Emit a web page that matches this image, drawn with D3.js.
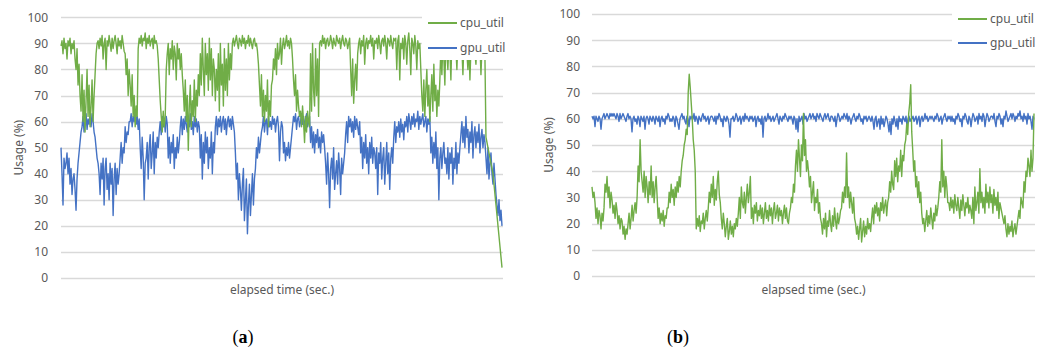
<!DOCTYPE html>
<html>
<head>
<meta charset="utf-8">
<script src="https://cdn.jsdelivr.net/npm/d3@7"></script>
<style>
  body { margin: 0; background: #fff; }
  svg { display: block; }
  .axis text { font-family: "Noto Sans", sans-serif; font-size: 12px; fill: #595959; }
</style>
</head>
<body>
<div id="chart"></div>
<script>
const WIDTH = 1037;
const HEIGHT = 358;

const SERIES_NAMES = ['cpu_util', 'gpu_util'];
const Y_TICKS = [0, 10, 20, 30, 40, 50, 60, 70, 80, 90, 100];
const X_TITLE = 'elapsed time (sec.)';
const Y_TITLE = 'Usage (%)';
const PANEL_LABELS = ['a', 'b'];

// (a) roughly one sample per pixel of the original plot
const cpuA = [
  89, 91, 86, 92, 88, 90, 84, 91, 89, 92, 86, 90, 88, 91,
  84, 80, 88, 74, 82, 70,
  64, 78, 60, 72, 56, 68, 80, 62, 74, 58, 66, 76, 60, 70,
  78, 86, 90,
  91, 88, 92, 89, 93, 84, 90, 92, 80, 91, 89, 93, 90, 87, 92, 88, 91, 93, 90, 86, 92, 89, 91, 88, 93, 90, 87,
  86, 78, 84, 70, 80, 74, 66, 78, 62, 70, 58, 66, 62,
  88, 92, 90, 93, 89, 92, 91, 94, 88, 92, 90, 93, 89, 91, 92, 88, 93, 90, 91, 89,
  84, 76, 68, 62, 56, 64, 58, 62,
  80, 86, 90, 78, 88, 84, 91, 80, 89, 86, 76, 90, 84, 88, 80, 86, 78,
  72, 64, 76, 60, 70, 49, 66, 74, 58, 68, 62, 76, 60, 72, 66, 78, 70,
  86, 74, 92, 80, 70, 90, 78, 86, 72, 92, 76, 88, 70, 84, 80,
  68, 80, 72, 86, 64, 90, 74, 82, 66, 88, 72, 84, 70, 90, 76, 86, 80,
  90, 92, 89, 91, 93, 90, 88, 92, 91, 89, 93, 90, 92, 88, 91, 90, 93, 89, 92, 90, 88, 91, 92, 89, 90, 87,
  82, 74, 66, 78, 62, 72, 60, 70, 64, 76, 58, 68, 62, 74,
  76, 84, 80, 88, 78, 90, 84, 86, 92, 82, 89, 92, 88, 90, 93, 89, 91, 88, 92, 90,
  84, 76, 70, 78, 64, 72, 66, 62,
  64, 58, 66, 60, 52, 62, 56, 64, 60, 58,
  86, 64, 90, 72, 66, 88, 70, 84, 62, 90,
  91, 89, 93, 90, 92, 88, 91, 92, 89, 90, 93, 91, 88, 92, 90, 89, 93, 91, 90, 92, 88, 91, 93, 90, 89, 92, 91, 88, 90, 92,
  80, 70, 84, 67, 76, 82, 72, 86,
  90, 92, 86, 91, 89, 93, 82, 90, 92, 88, 91, 90, 93, 89, 92, 84, 91, 90, 92, 88, 93, 90, 86, 91, 92, 89, 93, 90, 84, 92, 91, 89, 93, 90, 88, 92, 91,
  92, 80, 91, 93, 76, 90, 88, 92, 84, 93, 90, 82, 91, 94, 88, 78, 92, 90, 86, 93, 89, 80, 91, 88, 90,
  80, 70, 64, 76, 62, 72, 80, 66, 74, 60, 70, 78, 64, 82, 68, 74, 62, 72, 66, 76,
  88, 78, 90, 84, 74, 92, 86, 80, 90, 88, 76, 92, 86, 90, 84, 88, 80, 91, 86, 89, 85, 88, 78, 90, 84, 92, 86, 80, 90, 76, 88, 92, 84, 90, 86, 82, 91, 88, 84, 90, 78, 88, 92, 86, 84,
  54,
  52, 50, 48, 46, 44, 42, 40, 36, 32, 28, 24, 20, 16, 12, 8, 4
];

const gpuA = [
  50, 40, 28, 46, 42, 44, 48, 40, 46, 36, 42, 32, 38, 40, 34, 26, 38,
  44, 48, 52, 56,
  58, 62, 56, 60, 63, 57, 61, 59, 62, 58, 63, 60, 56,
  54, 50, 46, 44, 40,
  32, 44, 38, 46, 28, 42, 46, 34, 40, 30, 44, 36, 42, 24, 38, 44, 32, 42, 36, 40,
  46, 52, 44, 50, 48, 58, 52, 56, 55, 60,
  60, 63, 58, 62, 60, 64, 59, 62, 57, 61,
  50, 42, 54, 46, 30, 44, 46, 52, 38, 50, 55, 42, 48, 56, 40, 52, 46, 54, 50, 56,
  60, 55, 62, 58, 61, 56, 62, 59,
  46, 54, 44, 52, 48, 55, 42, 50, 46, 54, 48, 52,
  58, 62, 55, 61, 57, 62, 59, 56, 61, 58, 63, 57, 60, 55, 62, 58, 61, 56, 60, 58,
  46, 55, 38, 52, 44, 56, 48, 54, 42, 50, 46, 56, 40, 52, 48,
  58, 62, 55, 61, 58, 62, 56, 60, 62, 57, 61, 55, 60, 62, 58, 61, 57, 62, 59, 56,
  48, 38, 44, 30, 40, 34, 26, 36, 42, 22, 30, 38, 17, 28, 36, 24, 32, 40, 28, 38,
  42, 50, 46, 54, 48, 52, 56,
  58, 62, 56, 60, 61, 55, 62, 58, 60, 57, 62, 59, 61, 56, 60, 62, 58, 45, 56, 60, 58,
  48, 52, 45, 50, 47, 52, 46, 50, 54,
  58, 62, 60, 63, 57, 61, 62, 58, 60, 63, 59, 62, 57, 61, 63, 58, 60, 62,
  52, 58, 50, 56, 48, 55, 52, 57, 50, 54, 48, 56, 52, 55, 50,
  44, 36, 48, 40, 27, 42, 46, 38, 50, 34, 40, 45, 36, 48, 42, 32, 46, 40, 44, 48,
  55, 60, 52, 62, 58, 61, 56, 60, 54, 62, 57, 61, 58, 55, 60,
  48, 54, 42, 52, 46, 55, 44, 50, 40, 52, 46, 54, 44, 50, 48,
  42, 50, 32, 48, 44, 52, 38, 46, 50, 36, 44, 52, 40, 48, 34, 46, 50, 44,
  54, 60, 52, 58, 56, 60, 54, 61, 56, 59, 53, 60,
  58, 62, 56, 63, 60, 57, 62, 59, 63, 58, 61, 60, 64, 57, 62, 59, 61, 63, 58, 60, 62, 56, 61, 59, 62,
  48, 54, 44, 52, 46, 56, 42, 50, 30, 46, 50, 42, 48, 52, 44,
  46, 40, 50, 38, 48, 44, 50, 36, 46, 42, 52, 40, 48, 44, 50,
  55, 60, 52, 58, 50, 62, 54, 57, 48, 56, 52, 60, 46, 55, 58, 50, 56, 52, 59, 48, 54, 57, 50, 55, 52,
  46, 40, 50, 38, 44, 48, 40, 36, 44, 38,
  32, 28, 24, 30, 22, 26, 20
];

// (b)
const cpuB = [
  34, 30, 32, 28,
  22, 26, 20, 25, 23, 18, 24, 21, 26,
  35, 32, 38,
  30, 34, 26, 32, 29, 24, 27, 22, 28, 25, 20, 23, 18, 22, 21, 16, 19, 14, 18, 16,
  20, 24, 18, 22, 27, 21, 25, 28, 24, 30,
  42, 36, 52, 40, 36,
  32, 40, 30, 38, 34, 28, 36, 31, 42, 30, 36, 28, 34, 38, 30,
  22, 26, 20, 24, 21, 25, 19, 23, 22, 26,
  26, 32, 28, 35, 30, 33, 27, 34, 30, 36, 32, 38, 34,
  40, 44, 46, 50, 52, 56, 54,
  70, 77, 72,
  66, 60, 52, 48, 40,
  18, 22, 19, 23, 17, 21, 20, 24, 18, 22, 25, 21,
  26, 32, 28, 35, 30, 38, 27, 33, 29, 36, 40, 31, 28,
  22, 18, 24, 20, 15, 19, 22, 14, 17, 21, 16, 19, 15, 20, 18, 22, 19,
  24, 30, 22, 34, 28, 26, 32, 24, 30, 35, 28, 32, 38,
  22, 26, 20, 27, 24, 28, 21, 25, 23, 27, 22, 26, 20, 24, 28, 22, 25, 21, 27, 23, 26, 20, 25, 28, 22, 24, 27, 21, 26, 23, 25, 20, 24, 27, 22, 26, 21,
  20, 24, 26, 30, 28, 35, 32,
  42, 48, 40, 52, 45, 38, 50, 44, 62, 46, 52, 40, 44,
  40, 34, 38, 28, 32, 36, 25, 30, 28, 33, 24, 28, 22,
  20, 16, 22, 18, 24, 15, 21, 19, 25, 20, 17, 23, 19, 26, 21, 18, 24, 20, 22, 25,
  26, 32, 28, 34, 30, 47, 30, 34, 26, 32, 28, 24, 30, 22,
  20, 16, 19, 14, 18, 22, 13, 17, 21, 15, 19, 16, 22, 18, 20, 17,
  22, 26, 20, 27, 24, 28, 23, 26, 21, 28, 25, 30, 24, 27, 29, 23, 28,
  30, 36, 32, 40, 35, 33, 44, 38, 45, 36, 42, 40, 48, 38, 46, 44, 50,
  52, 58, 54, 62, 66, 73,
  55, 48, 40, 44, 34, 38, 30, 36, 28, 32,
  24, 20, 22, 17, 21, 25, 19, 23, 20, 26, 22, 18, 24, 21, 27, 23, 26,
  30, 36, 32, 52, 34, 40, 30, 38, 34, 28,
  28, 25, 30, 26, 29, 24, 31, 27, 25, 30, 26, 22, 29, 25, 31, 27, 23, 28, 26, 30, 24, 27, 25,
  22, 30, 20, 34, 25, 28, 32, 24, 41, 28, 32, 26, 30, 24, 35, 28, 32,
  26, 34, 28, 31, 24, 33, 27, 30, 25, 32, 22, 28, 26, 24, 22, 20, 23,
  18, 15, 20, 16, 19, 17, 21, 15, 18, 20, 16, 19, 22,
  25, 22, 30, 28, 26, 36, 32, 40, 38, 45, 42, 38, 48, 40, 45, 62
];

const gpuB = [
  61, 60, 61, 57, 61, 60, 59, 61, 60, 56, 60, 61, 62, 60, 61, 62, 61, 60, 62, 61,
  62, 61, 62, 61, 60, 62, 61, 59, 62, 60, 61, 62, 61, 60, 59, 61, 62, 60, 61, 60,
  55, 60, 61, 59, 60, 58, 61, 60, 57, 61, 60, 59, 61, 56, 60, 61, 60, 58, 61, 60,
  59, 61, 60, 58, 61, 60, 59, 61, 57, 60, 61, 59, 60, 58, 61, 60, 62, 61, 59, 60,
  59, 61, 60, 57, 61, 60, 58, 56, 60, 61, 62, 60, 61, 59, 58, 61, 60, 57, 61, 60,
  61, 60, 62, 59, 61, 60, 58, 61, 60, 59, 61, 62, 60, 61, 59, 60, 61, 58, 60, 61,
  61, 60, 59, 61, 58, 61, 60, 62, 61, 59, 60, 57, 61, 60, 59, 61, 60, 58, 53, 60,
  60, 61, 59, 60, 62, 61, 59, 60, 61, 58, 60, 61, 59, 62, 60, 61, 60, 59, 61, 60,
  61, 59, 60, 61, 57, 60, 61, 59, 60, 58, 61, 53, 60, 61, 59, 60, 62, 60, 61, 59,
  60, 61, 59, 60, 61, 62, 60, 58, 61, 60, 59, 61, 60, 62, 61, 60, 59, 61, 60, 61,
  60, 58, 61, 60, 56, 60, 55, 61, 59, 60, 61, 58, 62, 60, 61, 59, 60, 61, 62, 60,
  61, 62, 60, 61, 59, 62, 61, 60, 62, 61, 60, 59, 61, 62, 60, 61, 62, 60, 59, 61,
  61, 60, 59, 61, 57, 60, 62, 61, 59, 60, 61, 60, 62, 61, 60, 62, 59, 61, 60, 58,
  60, 61, 62, 60, 59, 61, 60, 62, 61, 59, 60, 58, 61, 60, 61, 59, 60, 61, 60, 59,
  61, 59, 56, 60, 61, 57, 59, 60, 56, 61, 58, 60, 57, 59, 61, 60, 58, 55, 59, 54,
  60, 58, 61, 59, 57, 60, 56, 61, 59, 60, 58, 61, 60, 59, 61, 57, 60, 61, 59, 60,
  60, 61, 59, 60, 61, 58, 60, 61, 57, 60, 61, 59, 60, 62, 60, 61, 59, 60, 61, 60,
  61, 60, 59, 61, 60, 62, 61, 59, 60, 61, 58, 60, 61, 62, 60, 59, 61, 60, 61, 59,
  61, 59, 60, 58, 61, 60, 62, 61, 59, 60, 57, 61, 60, 62, 61, 59, 58, 61, 60, 57,
  60, 62, 61, 59, 60, 61, 58, 62, 60, 61, 59, 62, 61, 57, 60, 62, 61, 59, 60, 61,
  61, 60, 62, 59, 57, 61, 60, 62, 61, 58, 60, 57, 61, 60, 63, 61, 59, 60, 61, 62,
  60, 62, 61, 59, 61, 60, 62, 61, 63, 60, 61, 59, 62, 60, 61, 58, 62, 60, 61, 59,
  56, 61, 60
];

const COLORS = { cpu_util: '#70ad47', gpu_util: '#4472c4' };
const GRID = '#d9d9d9';
const TEXT = '#595959';

const panels = [
  { label: PANEL_LABELS[0], cpu: cpuA, gpu: gpuA,
    left: 61, right: 503, top: 17.3, bottom: 278, pad: 13, yTitleX: 19,
    legend: { x: 422, w: 90, h: 60, row0: 23, gap: 25 }, labelX: 243 },
  { label: PANEL_LABELS[1], cpu: cpuB, gpu: gpuB,
    left: 592, right: 1035, top: 14, bottom: 276, pad: 12, yTitleX: 549,
    legend: { x: 952, w: 90, h: 56, row0: 19, gap: 24 }, labelX: 678 },
];

const svg = d3.select('#chart')
  .append('svg')
  .attr('width', WIDTH)
  .attr('height', HEIGHT);

panels.forEach((p) => {
  const g = svg.append('g');

  const y = d3.scaleLinear()
    .domain([0, 100])
    .range([p.bottom, p.top]);

  // gridlines
  g.append('g')
    .selectAll('line')
    .data(Y_TICKS)
    .enter().append('line')
      .attr('x1', p.left)
      .attr('x2', p.right)
      .attr('y1', (d) => Math.round(y(d)) + 0.5)
      .attr('y2', (d) => Math.round(y(d)) + 0.5)
      .attr('stroke', GRID)
      .attr('stroke-width', 1.3);

  const yAxis = d3.axisLeft(y)
    .tickValues(Y_TICKS)
    .tickSize(0)
    .tickPadding(p.pad);

  g.append('g')
    .attr('class', 'axis')
    .attr('transform', `translate(${p.left},0)`)
    .call(yAxis)
    .call((a) => a.select('.domain').remove());

  const series = { cpu_util: p.cpu, gpu_util: p.gpu };

  // gpu first so cpu ends up on top
  ['gpu_util', 'cpu_util'].forEach((name) => {
    const values = series[name];
    const x = d3.scaleLinear()
      .domain([0, values.length - 1])
      .range([p.left, p.right - 1]);
    const line = d3.line()
      .x((d, i) => x(i))
      .y((d) => y(d));
    g.append('path')
      .datum(values)
      .attr('fill', 'none')
      .attr('stroke', COLORS[name])
      .attr('stroke-width', 1.4)
      .attr('stroke-linejoin', 'round')
      .attr('d', line);
  });

  // legend, white box on top of the data
  const lg = g.append('g');
  lg.append('rect')
    .attr('x', p.legend.x)
    .attr('y', 0)
    .attr('width', p.legend.w)
    .attr('height', p.legend.h)
    .attr('fill', '#fff');
  SERIES_NAMES.forEach((name, i) => {
    const ly = p.legend.row0 + i * p.legend.gap;
    lg.append('line')
      .attr('x1', p.legend.x + 6)
      .attr('x2', p.legend.x + 35)
      .attr('y1', ly)
      .attr('y2', ly)
      .attr('stroke', COLORS[name])
      .attr('stroke-width', 2);
    lg.append('text')
      .attr('x', p.legend.x + 38)
      .attr('y', ly + 4)
      .attr('font-family', '"Noto Sans", sans-serif')
      .attr('font-size', 12)
      .attr('fill', TEXT)
      .text(name);
  });

  g.append('text')
    .attr('transform', `translate(${p.yTitleX},${(p.top + p.bottom) / 2}) rotate(-90)`)
    .attr('text-anchor', 'middle')
    .attr('dy', '0.35em')
    .attr('font-family', '"Noto Sans", sans-serif')
    .attr('font-size', 12)
    .attr('fill', TEXT)
    .text(Y_TITLE);

  g.append('text')
    .attr('x', (p.left + p.right) / 2)
    .attr('y', 294)
    .attr('text-anchor', 'middle')
    .attr('font-family', '"Noto Sans", sans-serif')
    .attr('font-size', 12)
    .attr('fill', TEXT)
    .text(X_TITLE);

  const lab = g.append('text')
    .attr('x', p.labelX)
    .attr('y', 343)
    .attr('text-anchor', 'middle')
    .attr('font-family', '"Liberation Serif", serif')
    .attr('font-size', 18)
    .attr('fill', '#000');
  lab.append('tspan').text('(');
  lab.append('tspan').attr('font-weight', 'bold').text(p.label);
  lab.append('tspan').text(')');
});
</script>
</body>
</html>
